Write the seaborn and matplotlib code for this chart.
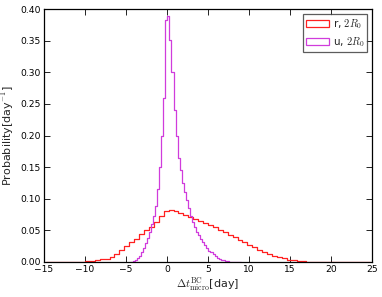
import numpy as np
import pandas as pd
import matplotlib
matplotlib.use("Agg")
import matplotlib.pyplot as plt
import seaborn as sns
from matplotlib.patches import Patch

# ---- data ----
# red series "r, 2R0": bin edges every 0.6 day from -14.8 to 24.8
r_edges = [round(v, 2) for v in np.arange(-14.8, 24.81, 0.6)]
r_values = [
    0.0, 0.0, 0.00005, 0.0001, 0.0001, 0.0002, 0.0003, 0.0006, 0.001, 0.0018,
    0.003, 0.0045, 0.005, 0.0085, 0.013, 0.019, 0.025, 0.031, 0.037, 0.044,
    0.050, 0.056, 0.064, 0.073, 0.080, 0.082, 0.081, 0.078, 0.075, 0.071,
    0.068, 0.065, 0.062, 0.058, 0.055, 0.051, 0.047, 0.043, 0.039, 0.035,
    0.031, 0.027, 0.023, 0.019, 0.016, 0.013, 0.010, 0.0075, 0.0055, 0.0038,
    0.0025, 0.0016, 0.001, 0.0006, 0.0004, 0.00025, 0.00015, 0.0001, 0.00006, 0.00003,
    0.00002, 0.00001, 0.0, 0.0, 0.0, 0.0,
]
# magenta series "u, 2R0": bin edges every 0.25 day from -4.45
u_edges = [round(v, 2) for v in np.arange(-4.45, 9.06, 0.25)]
u_values = [
    0.0004, 0.0012, 0.003, 0.006, 0.010, 0.016, 0.022, 0.030, 0.038, 0.048,
    0.060, 0.072, 0.088, 0.115, 0.150, 0.200, 0.260, 0.383, 0.389, 0.351,
    0.301, 0.240, 0.200, 0.165, 0.145, 0.125, 0.110, 0.098, 0.085, 0.072,
    0.064, 0.055, 0.048, 0.042, 0.036, 0.031, 0.027, 0.022, 0.018, 0.015,
    0.012, 0.009, 0.007, 0.005, 0.0035, 0.0025, 0.0017, 0.0011, 0.0007, 0.0004,
    0.0003, 0.0002, 0.0001, 0.0001,
]
labels = ["r, $2R_0$", "u, $2R_0$"]
colors = ["#ff2020", "#d03cdc"]

r_e = np.array(r_edges)
u_e = np.array(u_edges)
r_centers = (r_e[:-1] + r_e[1:]) / 2
u_centers = (u_e[:-1] + u_e[1:]) / 2
df_r = pd.DataFrame({"t": r_centers, "w": r_values[:len(r_centers)]})
df_u = pd.DataFrame({"t": u_centers, "w": u_values[:len(u_centers)]})

# ---- style ----
sns.set_style("ticks")
plt.rcParams.update({
    "font.family": ["DejaVu Sans"],
    "mathtext.fontset": "cm",
    "axes.linewidth": 0.9,
    "axes.edgecolor": "black",
})

fig = plt.figure(figsize=(3.82, 2.97), dpi=100)
ax = fig.add_axes([0.115, 0.118, 0.859, 0.851])

sns.histplot(data=df_r, x="t", weights="w", bins=r_edges, element="step",
             fill=False, stat="count", color=colors[0], linewidth=0.9, ax=ax)
sns.histplot(data=df_u, x="t", weights="w", bins=u_edges, element="step",
             fill=False, stat="count", color=colors[1], linewidth=0.9, ax=ax)

ax.set_xlim(-15, 25)
ax.set_ylim(0, 0.40)
ax.set_xticks(np.arange(-15, 26, 5))
ax.set_yticks(np.arange(0, 0.401, 0.05))
ax.tick_params(axis="both", which="major", direction="in", top=True, right=True,
               length=4, width=0.6, color="black", labelcolor="black",
               labelsize=6.6, pad=2.5)
for s in ax.spines.values():
    s.set_visible(True)
ax.set_xlabel(r"$\Delta t^{\rm BC}_{\rm micro}$[day]", fontsize=8, labelpad=1)
ax.set_ylabel(r"Probability[day$^{-1}$]", fontsize=8, labelpad=3)

handles = [Patch(facecolor="none", edgecolor=c, linewidth=0.9) for c in colors]
leg = ax.legend(handles, labels, loc="upper right", fontsize=7.5, frameon=True,
                fancybox=False, borderpad=0.3, handlelength=2.2, handleheight=0.7,
                labelspacing=0.45, handletextpad=0.35, borderaxespad=0.45)
leg.get_frame().set_edgecolor("#333333")
leg.get_frame().set_linewidth(0.9)

fig.savefig("out.png", dpi=100)
